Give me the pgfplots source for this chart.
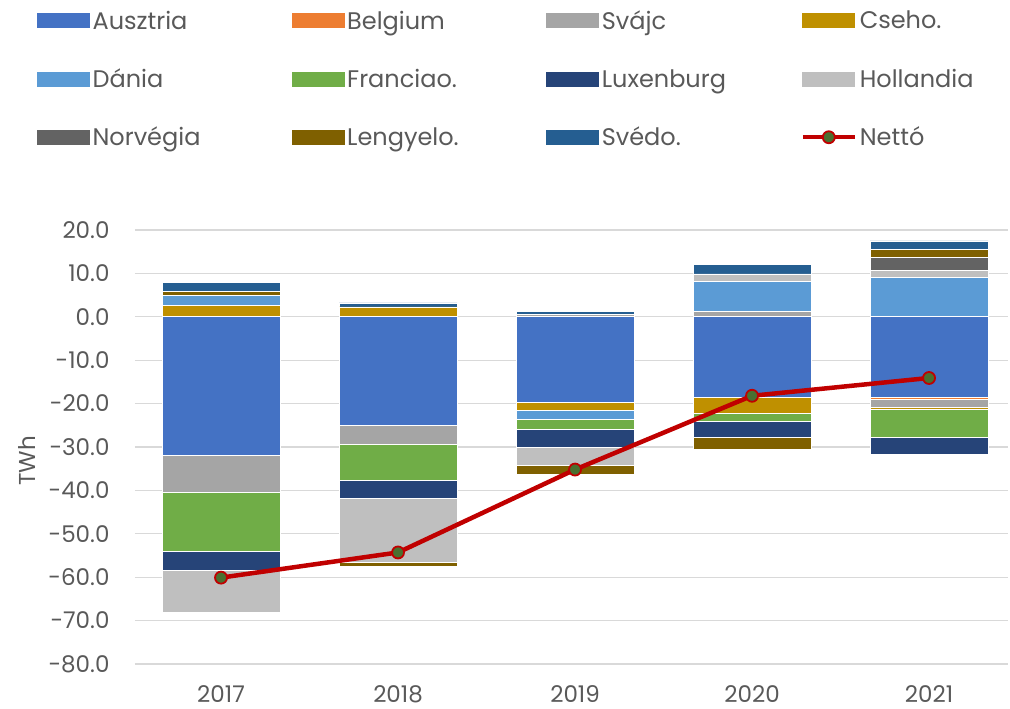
\documentclass[border=0pt]{standalone}
\usepackage{pgfplots}
\usepackage{pgfplotstable}
\pgfplotsset{compat=1.18}
\usepackage{fontspec}
\setmainfont{Poppins}
\definecolor{cAus}{HTML}{4472C4}
\definecolor{cBel}{HTML}{ED7D31}
\definecolor{cSva}{HTML}{A5A5A5}
\definecolor{cCse}{HTML}{BF9000}
\definecolor{cDan}{HTML}{5B9BD5}
\definecolor{cFra}{HTML}{70AD47}
\definecolor{cLux}{HTML}{264478}
\definecolor{cHol}{HTML}{BFBFBF}
\definecolor{cNor}{HTML}{636363}
\definecolor{cLen}{HTML}{7F6000}
\definecolor{cSve}{HTML}{255E91}
\definecolor{cNet}{HTML}{C00000}
\definecolor{cMark}{HTML}{4A7030}
\definecolor{cTxt}{HTML}{595959}
\definecolor{cGrid}{HTML}{D9D9D9}

\pgfplotstableread{
x aus bel sva cse dan fra lux hol nor len sve
0 0 0 0 2.6 2.3 0 0 0 0 1.0 2.1
1 0 0 0 2.3 0 0 0 0 0 0 0.9
2 0 0 0.5 0 0 0 0 0 0 0 0.8
3 0 0 1.2 0 6.9 0 0 1.8 0 0 2.2
4 0 0 0 0 9.0 0 0 1.7 3.0 1.8 2.0
}\pos

\pgfplotstableread{
x aus bel sva cse dan fra lux hol nor len sve
0 -31.8 0 -8.6 0 0 -13.7 -4.2 -9.7 0 0 0
1 -25.1 0 -4.2 0 0 -8.4 -4.2 -14.7 0 -0.8 0
2 -19.6 0 0 -2.0 -2.0 -2.4 -4.0 -4.2 0 -2.2 0
3 -18.5 0 0 -3.7 0 -1.8 -3.7 0 0 -2.9 0
4 -18.5 -0.6 -1.8 -0.4 0 -6.4 -3.9 0 0 0 0
}\neg

\pgfplotstableread{
x net
0 -60.1
1 -54.3
2 -35.2
3 -18.2
4 -14.1
}\net

\newcommand{\legent}[1]{\makebox[202pt][l]{\hspace{3pt}\rule[-6pt]{0pt}{24pt}#1}}

\pgfplotsset{
  base/.style={
    at={(135pt,45pt)}, anchor=south west,
    scale only axis, width=873pt, height=434pt,
    xmin=-0.486, xmax=4.446, ymin=-80, ymax=20,
    axis line style={draw=none}, major tick length=0pt,
    xtick={0,1,2,3,4}, ytick={-80,-70,...,20},
  },
  seg/.style={fill=#1, draw=white, line width=0.6pt,
    legend image code/.code={\fill[#1] (0pt,-7pt) rectangle (52pt,7pt);}},
}

\begin{document}
\begin{tikzpicture}[x=1pt,y=1pt]
\useasboundingbox (0,0) rectangle (1010,709);

% Axis A: grid, ticks, positive parts
\begin{axis}[base,
  ybar stacked, bar width=118pt,
  ymajorgrids, grid style={draw=cGrid, line width=1.3pt},
  xticklabels={2017,2018,2019,2020,2021},
  ticklabel style={font=\fontsize{23}{27}\selectfont, text=cTxt},
  xticklabel style={yshift=-18pt},
  yticklabel style={xshift=-22pt},
  /pgf/number format/.cd, fixed, fixed zerofill, precision=1, assume math mode=true,
  /pgfplots/.cd,
  every axis y label/.style={at={(axis description cs:-0.1237,0.468)}, rotate=90, anchor=center},
  ylabel={TWh}, label style={font=\fontsize{23}{27}\selectfont, text=cTxt},
]
\addplot[seg=cAus] table[x=x,y=aus]{\pos};
\addplot[seg=cBel] table[x=x,y=bel]{\pos};
\addplot[seg=cSva] table[x=x,y=sva]{\pos};
\addplot[seg=cCse] table[x=x,y=cse]{\pos};
\addplot[seg=cDan] table[x=x,y=dan]{\pos};
\addplot[seg=cFra] table[x=x,y=fra]{\pos};
\addplot[seg=cLux] table[x=x,y=lux]{\pos};
\addplot[seg=cHol] table[x=x,y=hol]{\pos};
\addplot[seg=cNor] table[x=x,y=nor]{\pos};
\addplot[seg=cLen] table[x=x,y=len]{\pos};
\addplot[seg=cSve] table[x=x,y=sve]{\pos};
\end{axis}

% Axis B: negative parts + legend
\begin{axis}[base, hide axis,
  ybar stacked, bar width=118pt,
  legend columns=4,
  legend cell align=left,
  legend style={at={(0,1)}, anchor=north west, xshift=-98pt, yshift=219.5pt,
    draw=none, fill=none, inner sep=0pt, outer sep=0pt,
    column sep=0pt, row sep=38pt,
    font=\fontsize{24}{28}\selectfont, text=cTxt,
    nodes={inner sep=0pt, outer sep=0pt}},
]
\addplot[seg=cAus] table[x=x,y=aus]{\neg};
\addlegendentry{\legent{Ausztria}}
\addplot[seg=cBel] table[x=x,y=bel]{\neg};
\addlegendentry{\legent{Belgium}}
\addplot[seg=cSva] table[x=x,y=sva]{\neg};
\addlegendentry{\legent{Svájc}}
\addplot[seg=cCse] table[x=x,y=cse]{\neg};
\addlegendentry{\legent{Cseho.}}
\addplot[seg=cDan] table[x=x,y=dan]{\neg};
\addlegendentry{\legent{Dánia}}
\addplot[seg=cFra] table[x=x,y=fra]{\neg};
\addlegendentry{\legent{Franciao.}}
\addplot[seg=cLux] table[x=x,y=lux]{\neg};
\addlegendentry{\legent{Luxenburg}}
\addplot[seg=cHol] table[x=x,y=hol]{\neg};
\addlegendentry{\legent{Hollandia}}
\addplot[seg=cNor] table[x=x,y=nor]{\neg};
\addlegendentry{\legent{Norvégia}}
\addplot[seg=cLen] table[x=x,y=len]{\neg};
\addlegendentry{\legent{Lengyelo.}}
\addplot[seg=cSve] table[x=x,y=sve]{\neg};
\addlegendentry{\legent{Svédo.}}
\addlegendimage{legend image code/.code={
  \draw[cNet, line width=4pt] (0pt,0pt) -- (52pt,0pt);
  \filldraw[fill=cMark, draw=cNet, line width=1.8pt] (26pt,0pt) circle (6pt);}}
\addlegendentry{\legent{Nettó}}
\end{axis}

% Axis C: net line
\begin{axis}[base, hide axis]
\addplot[cNet, line width=4.5pt, mark=*, mark size=6pt,
  mark options={fill=cMark, draw=cNet, line width=1.8pt, solid}]
  table[x=x,y=net]{\net};
\end{axis}
\end{tikzpicture}
\end{document}
